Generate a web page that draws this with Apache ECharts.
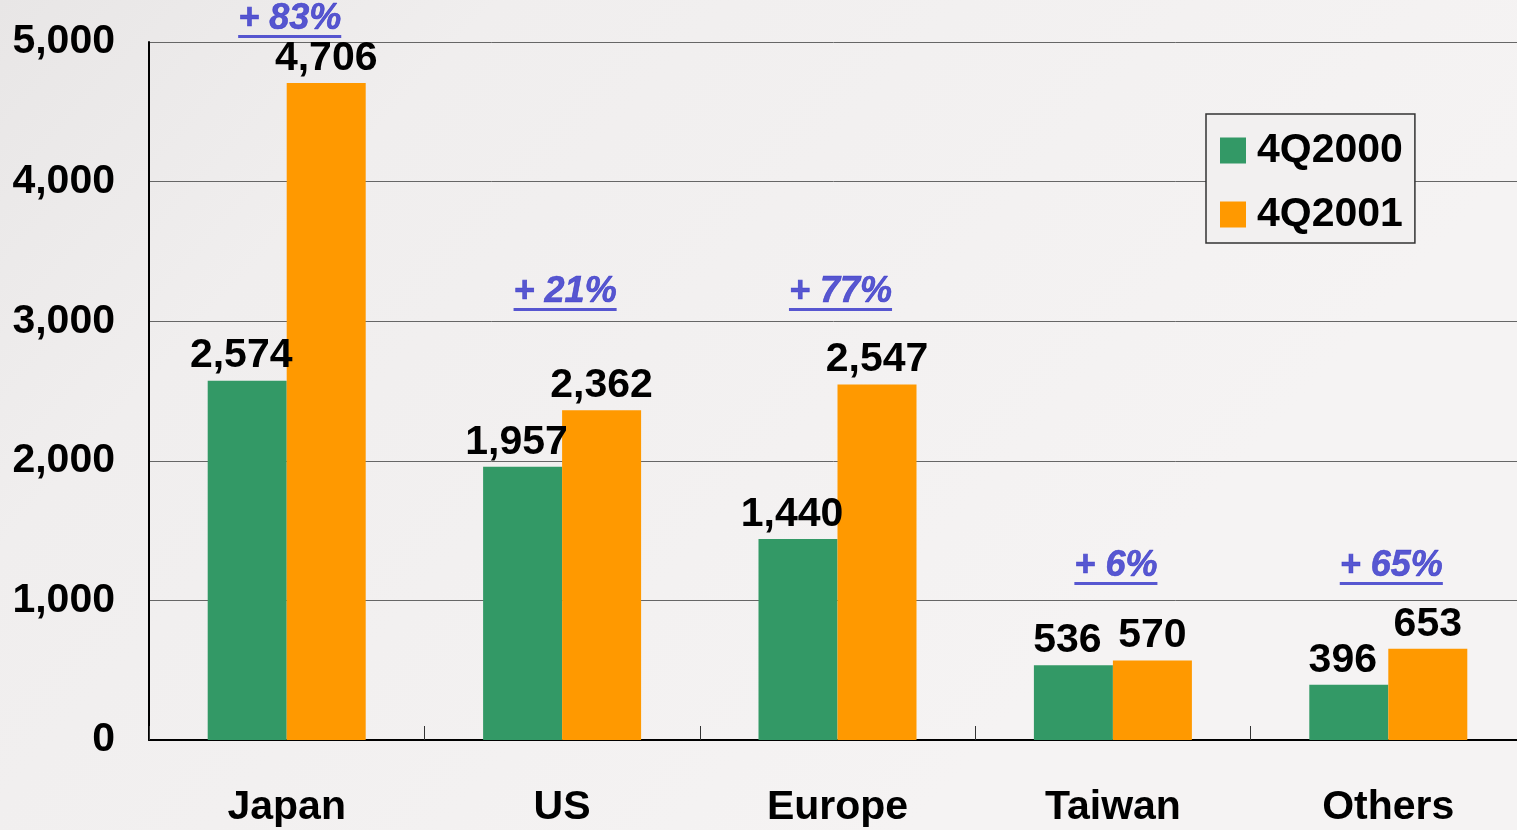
<!DOCTYPE html>
<html>
<head>
<meta charset="utf-8">
<script src="https://cdn.jsdelivr.net/npm/echarts@6/dist/echarts.min.js"></script>
<style>
  html, body { margin: 0; padding: 0; }
  #main { width: 1517px; height: 830px; }
</style>
</head>
<body>
<div id="main"></div>
<script>
var categories = ['Japan', 'US', 'Europe', 'Taiwan', 'Others'];
var q2000 = [2574, 1957, 1440, 536, 396];
var q2001 = [4706, 2362, 2547, 570, 653];
var growth = ['+ 83%', '+ 21%', '+ 77%', '+ 6%', '+ 65%'];
// value level where each growth note sits
var growthLevel = [5158, 3202, 3202, 1239, 1239];
var yTicks = [0, 1000, 2000, 3000, 4000, 5000];

var chart = echarts.init(document.getElementById('main'));
var font = 'Liberation Sans, Arial, sans-serif';

function barLabel(dx) {
  return {
    show: true,
    position: 'top',
    distance: 4,
    offset: [dx, 0],
    color: '#000',
    fontSize: 41,
    fontWeight: 'bold',
    fontFamily: font,
    formatter: function (p) { return echarts.format.addCommas(p.value); }
  };
}

var option = {
  backgroundColor: {
    type: 'linear', x: 0, y: 0, x2: 0.6, y2: 1,
    colorStops: [
      { offset: 0, color: '#e8e6e6' },
      { offset: 0.3, color: '#f0eeee' },
      { offset: 1, color: '#f5f3f3' }
    ]
  },
  animation: false,
  grid: { left: 149, top: 42, width: 1377, bottom: 90, outerBoundsMode: 'none' },
  legend: {
    data: ['4Q2000', '4Q2001'],
    orient: 'vertical',
    left: 1206,
    top: 114,
    padding: [16, 12, 8, 14],
    itemWidth: 26,
    itemHeight: 26,
    itemGap: 23,
    icon: 'rect',
    borderColor: '#333',
    borderWidth: 1.5,
    backgroundColor: '#f2f0f0',
    textStyle: {
      color: '#000', fontSize: 41, fontWeight: 'bold', fontFamily: font,
      lineHeight: 40, padding: [0, 0, 0, 6]
    }
  },
  xAxis: {
    type: 'category',
    data: categories,
    axisLine: { lineStyle: { color: '#000', width: 2 } },
    axisTick: { show: true, inside: true, length: 14, lineStyle: { color: '#333', width: 1 } },
    axisLabel: {
      color: '#000', fontSize: 41, fontWeight: 'bold', fontFamily: font, margin: 47
    }
  },
  yAxis: {
    type: 'value',
    min: yTicks[0],
    max: yTicks[yTicks.length - 1],
    interval: 1000,
    axisLine: { show: true, lineStyle: { color: '#000', width: 2 } },
    axisTick: { show: false },
    splitLine: { lineStyle: { color: '#666', width: 1 } },
    axisLabel: {
      color: '#000', fontSize: 41, fontWeight: 'bold', fontFamily: font, margin: 34,
      formatter: function (v) { return echarts.format.addCommas(v); }
    }
  },
  series: [
    {
      name: '4Q2000',
      type: 'bar',
      data: q2000,
      barWidth: 79,
      barGap: '0%',
      itemStyle: { color: '#339966' },
      label: barLabel(-6)
    },
    {
      name: '4Q2001',
      type: 'bar',
      data: q2001,
      barWidth: 79,
      barGap: '0%',
      itemStyle: { color: '#ff9900' },
      label: barLabel(0)
    },
    {
      name: 'growth',
      type: 'scatter',
      data: growthLevel,
      symbolSize: 0,
      clip: false,
      silent: true,
      label: {
        show: true,
        position: 'inside',
        offset: [3, 1],
        formatter: function (p) {
          return '{t|' + growth[p.dataIndex] + '}\n{u|' + growth[p.dataIndex] + '}';
        },
        rich: {
          t: {
            color: '#3030c8', fontSize: 36, fontWeight: 'bold', fontStyle: 'italic',
            fontFamily: font, lineHeight: 31,
            textBorderColor: '#3030c8', textBorderWidth: 0.6
          },
          u: {
            color: 'transparent', fontSize: 36, fontWeight: 'bold', fontStyle: 'italic',
            fontFamily: font, lineHeight: 3, height: 3, backgroundColor: '#3030c8'
          }
        }
      }
    }
  ]
};

chart.setOption(option);
</script>
</body>
</html>
